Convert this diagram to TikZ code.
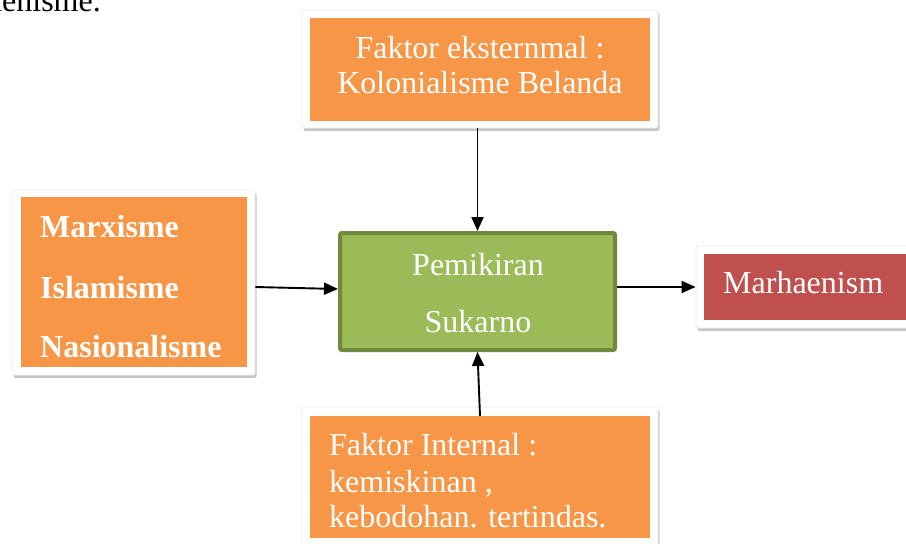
\documentclass[tikz,border=0pt]{standalone}
\usepackage{fontspec}
\setmainfont{Liberation Serif}
\usetikzlibrary{arrows.meta,positioning,shadows}
\definecolor{oranye}{HTML}{F79646}
\definecolor{hijau}{HTML}{9BBB59}
\definecolor{hijautua}{HTML}{71893F}
\definecolor{merah}{HTML}{C0504D}
\tikzset{
  bingkai/.style={fill=white, draw=gray!15, line width=0.8pt, rounded corners=2pt, inner sep=0pt,
    drop shadow={shadow xshift=1.5pt, shadow yshift=-3pt, fill=gray!55, opacity=.8}},
  kotak/.style={fill=oranye, draw=none, inner sep=0pt},
  tulisan/.style={text=white, font=\fontsize{32}{35}\selectfont, inner sep=0pt},
  tebal/.style={tulisan, font=\fontsize{32}{35}\selectfont\bfseries, anchor=base west},
  panah/.style={-{Triangle[length=14pt,width=12pt]}, line width=1.9pt},
}
\begin{document}
\begin{tikzpicture}[x=1pt,y=-1pt]
\useasboundingbox (0,0) rectangle (906,544);
\node[anchor=base east, inner sep=0pt, font=\fontsize{32}{35}\selectfont] (potongan) at (101,11) {aenisme.};

% faktor eksternal
\node[bingkai, minimum width=356pt, minimum height=118pt] (bingkaiAtas) at (480,69) {};
\node[kotak, minimum width=340pt, minimum height=103pt] (eksternal) at (480,69) {};
\node[tulisan, anchor=base] (eks1) at (480,58) {Faktor eksternmal :};
\node[tulisan, anchor=base] (eks2) at (480,93) {Kolonialisme Belanda};

% ideologi
\node[bingkai, minimum width=243pt, minimum height=185pt] (bingkaiKiri) at (133.5,282.5) {};
\node[kotak, minimum width=226pt, minimum height=170pt] (ideologi) at (134,282) {};
\node[tebal] (marx) at (40,237) {Marxisme};
\node[tebal] (islam) at (40,298) {Islamisme};
\node[tebal] (nasional) at (40,357) {Nasionalisme};

% pemikiran
\node[fill=hijau, draw=hijautua, line width=4pt, rounded corners=2pt,
  minimum width=275pt, minimum height=117pt, inner sep=0pt] (pemikiran) at (477.5,291.5) {};
\node[tulisan, anchor=base] (pem1) at (478,275) {Pemikiran};
\node[tulisan, anchor=base] (pem2) at (478,332) {Sukarno};

% hasil
\node[bingkai, minimum width=234pt, minimum height=82pt] (bingkaiKanan) at (813,287) {};
\node[kotak, fill=merah, minimum width=216pt, minimum height=66pt] (marhaen) at (812,287) {};
\node[tulisan, anchor=base west] (marhaenism) at (723,293) {Marhaenism};

% faktor internal
\node[bingkai, minimum width=356pt, minimum height=153pt] (bingkaiBawah) at (480,483.5) {};
\node[kotak, minimum width=340pt, minimum height=122pt] (internal) at (480,477) {};
\node[tulisan, anchor=base west] (int1) at (329,455) {Faktor Internal :};
\node[tulisan, anchor=base west] (int2) at (329,492) {kemiskinan ,};
\node[tulisan, anchor=base west] (int3) at (329,527) {kebodohan. tertindas.};

\draw[panah] (pemikiran.north |- bingkaiAtas.south) -- (pemikiran.north);
\draw[panah] ([yshift=-4.5pt]bingkaiKiri.east) -- ([yshift=2.5pt]pemikiran.west);
\draw[panah] (pemikiran.east |- bingkaiKanan.west) -- (bingkaiKanan.west);
\draw[panah] (internal.north) -- (pemikiran.south);
\end{tikzpicture}
\end{document}
